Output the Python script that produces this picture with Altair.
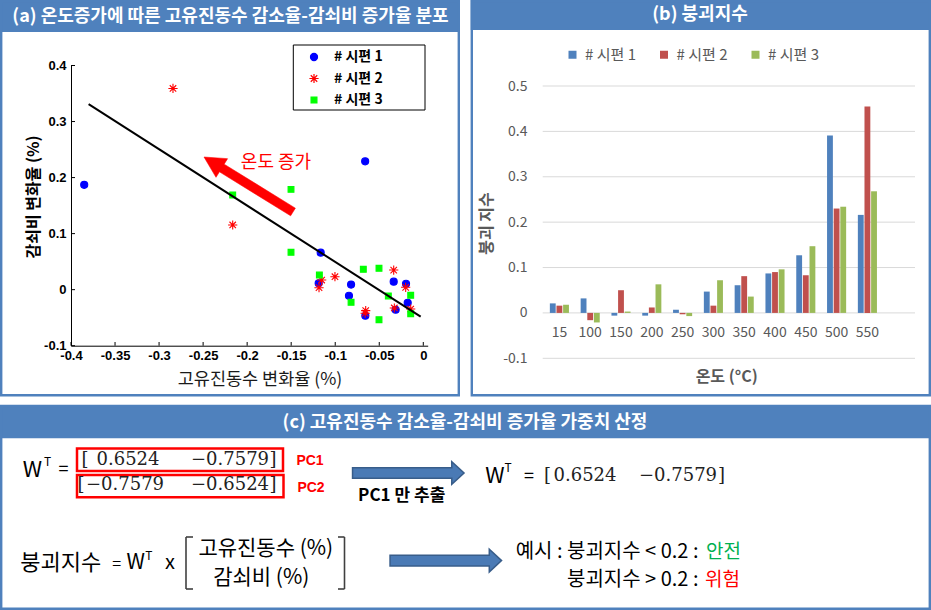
import altair as alt
import pandas as pd

# ---------------- data ----------------
series = ["# 시편 1", "# 시편 2", "# 시편 3"]

# (a) natural-frequency change rate (x) vs damping-ratio change rate (y)
s1_x = [-0.385, -0.066, -0.1165, -0.1188, -0.082, -0.0844, -0.0658, -0.0336, -0.0196, -0.0177, -0.0314]
s1_y = [0.187, 0.229, 0.066, 0.0114, 0.009, -0.011, -0.0465, 0.0142, 0.0106, -0.0233, -0.0358]
s2_x = [-0.2842, -0.2164, -0.1154, -0.1184, -0.1003, -0.0654, -0.066, -0.0336, -0.0329, -0.02, -0.0143]
s2_y = [0.359, 0.1154, 0.0172, 0.0035, 0.0231, -0.0375, -0.042, 0.035, -0.0327, 0.0042, -0.0345]
s3_x = [-0.2164, -0.1502, -0.1502, -0.118, -0.082, -0.0681, -0.0503, -0.0503, -0.0397, -0.0143, -0.0143]
s3_y = [0.169, 0.179, 0.0667, 0.0262, -0.0226, 0.0363, 0.0381, -0.0536, -0.0113, -0.01, -0.0429]
fit_x = [-0.38, -0.003]
fit_y = [0.331, -0.048]
a_xticks = [-0.4, -0.35, -0.3, -0.25, -0.2, -0.15, -0.1, -0.05, 0]
a_yticks = [-0.1, 0, 0.1, 0.2, 0.3, 0.4]

# (b) collapse index by temperature
temps = ["15", "100", "150", "200", "250", "300", "350", "400", "450", "500", "550"]
b1 = [0.021, 0.032, -0.006, -0.006, 0.007, 0.047, 0.061, 0.087, 0.127, 0.391, 0.216]
b2 = [0.016, -0.016, 0.050, 0.012, -0.003, 0.016, 0.081, 0.090, 0.083, 0.230, 0.455]
b3 = [0.018, -0.021, 0.003, 0.063, -0.007, 0.072, 0.036, 0.096, 0.147, 0.234, 0.268]
b_yticks = [-0.1, 0, 0.1, 0.2, 0.3, 0.4, 0.5]

# (c) PCA weights
w_pc1 = ["0.6524", "−0.7579"]
w_pc2 = ["−0.7579", "−0.6524"]

# ---------------- style ----------------
KR = "Noto Sans CJK KR"
AR = "Liberation Sans"
SERIF = "DejaVu Serif"
BLUE = "#4F81BD"
GRAY = "#595959"
MINUS2 = "replace(format(datum.value, '.2~f'), '−', '-')"
MINUS1 = "replace(format(datum.value, '.1~f'), '−', '-')"

PXS = alt.Scale(domain=[0, 931], range=[0, 931])
PYS = alt.Scale(domain=[0, 610], range=[0, 610])
AXS = alt.Scale(domain=[-0.4, 0.005], range=[71, 427.7])
AYS = alt.Scale(domain=[-0.1, 0.4], range=[345.7, 65.5])
BXS = alt.Scale(domain=temps, range=[544, 882.8], paddingInner=0.38, paddingOuter=0.19)
BYS = alt.Scale(domain=[-0.1, 0.5], range=[358.3, 86])

ASTER = "M-1,0L1,0M0,-1L0,1M-0.7,-0.7L0.7,0.7M-0.7,0.7L0.7,-0.7"
BLOCK = "M-1,-0.095L0.78,-0.095L0.78,-0.203L1,0L0.78,0.203L0.78,0.095L-1,0.095Z"
RED_ARROW = "M-1,-0.086L0.6,-0.086L0.6,-0.21L1,0L0.6,0.21L0.6,0.086L-1,0.086Z"


def px_rects(rows, **mark):
    df = pd.DataFrame(rows, columns=["x", "y", "x2", "y2"])
    return alt.Chart(df).mark_rect(**mark).encode(
        x=alt.X("x:Q", scale=PXS, axis=None), x2="x2:Q",
        y=alt.Y("y:Q", scale=PYS, axis=None), y2="y2:Q")


def px_rules(rows, **mark):
    df = pd.DataFrame(rows, columns=["x", "y", "x2", "y2"])
    return alt.Chart(df).mark_rule(**mark).encode(
        x=alt.X("x:Q", scale=PXS, axis=None), x2="x2:Q",
        y=alt.Y("y:Q", scale=PYS, axis=None), y2="y2:Q")


def texts(rows, font, weight, align):
    df = pd.DataFrame(rows, columns=["t", "x", "y", "s", "c", "a"])
    return alt.Chart(df).mark_text(font=font, fontWeight=weight, align=align, baseline="middle").encode(
        x=alt.X("x:Q", scale=PXS, axis=None),
        y=alt.Y("y:Q", scale=PYS, axis=None),
        text="t:N",
        size=alt.Size("s:Q", scale=None),
        color=alt.Color("c:N", scale=None),
        angle=alt.Angle("a:Q", scale=None))


def px_symbol(rows, shape, size, fill, stroke, width, angle):
    df = pd.DataFrame(rows, columns=["x", "y"])
    return alt.Chart(df).mark_point(shape=shape, size=size, filled=True, fill=fill, stroke=stroke,
                                    strokeWidth=width, angle=angle, opacity=1).encode(
        x=alt.X("x:Q", scale=PXS, axis=None), y=alt.Y("y:Q", scale=PYS, axis=None))


layers = []

# panel frames
layers.append(px_rects([(0, 0, 460, 32), (470.7, 0, 931, 30), (0, 405, 931, 438.3)], color=BLUE))
layers.append(px_rects([(1.2, 1, 458.8, 395.3), (471.8, 1, 929.8, 395.3), (1.2, 406, 929.8, 608.8)],
                       fillOpacity=0, stroke=BLUE, strokeWidth=2.4))
# scatter legend frame
layers.append(px_rects([(293.3, 45, 425, 110)], fillOpacity=0, stroke="black", strokeWidth=1))
# PC boxes
layers.append(px_rects([(77, 448.5, 283, 471), (77, 475, 283.5, 497.3)],
                       fillOpacity=0, stroke="#FF0000", strokeWidth=2.5))
# big bracket
layers.append(px_rules([(186, 537, 186, 589), (186, 537, 193, 537), (186, 589, 193, 589),
                        (344.5, 537, 344.5, 589), (338, 537, 344.5, 537), (338, 589, 344.5, 589)],
                       color="#404040", strokeWidth=1.6))

# ---------------- (b) bar chart ----------------
layers.append(alt.Chart(pd.DataFrame({"v": b_yticks})).mark_rule(color="#D9D9D9", strokeWidth=1).encode(
    y=alt.Y("v:Q", scale=BYS, axis=None), x=alt.value(542.7), x2=alt.value(915)))

df_b = pd.DataFrame({
    "temp": temps * 3,
    "value": b1 + b2 + b3,
    "series": [series[0]] * len(b1) + [series[1]] * len(b2) + [series[2]] * len(b3),
})
LEG_B = alt.Legend(title=None, orient="none", legendX=565, legendY=47, direction="horizontal", padding=0,
                   symbolType="square", symbolSize=64, symbolStrokeWidth=0, labelFont=KR, labelFontSize=15,
                   labelColor=GRAY, labelOffset=5, columnPadding=20.5)
layers.append(alt.Chart(df_b).mark_bar().encode(
    x=alt.X("temp:N", scale=BXS, sort=temps,
            axis=alt.Axis(orient="bottom", offset=312.3 - 610, domain=False, ticks=False, tickSize=0,
                          grid=False, labelAngle=0, labelPadding=13, labelFont=KR, labelFontSize=14,
                          labelColor=GRAY, title=None, zindex=1)),
    xOffset=alt.XOffset("series:N", scale=alt.Scale(domain=series, paddingInner=0.12, paddingOuter=0)),
    y=alt.Y("value:Q", scale=BYS,
            axis=alt.Axis(orient="left", offset=-532, values=b_yticks, domain=False, ticks=False, tickSize=0,
                          grid=False, labelPadding=5, labelFont=KR, labelFontSize=14, labelColor=GRAY,
                          labelExpr=MINUS1, title=None, zindex=1)),
    color=alt.Color("series:N", scale=alt.Scale(domain=series, range=["#4F81BD", "#C0504D", "#9BBB59"]),
                    legend=LEG_B),
))

# ---------------- (a) scatter ----------------
layers.append(alt.Chart(pd.DataFrame({"v": a_xticks})).mark_rule(color="black").encode(
    x=alt.X("v:Q", scale=AXS, axis=None), y=alt.value(345.7), y2=alt.value(342)))
layers.append(alt.Chart(pd.DataFrame({"v": a_yticks})).mark_rule(color="black").encode(
    y=alt.Y("v:Q", scale=AYS, axis=None), x=alt.value(71), x2=alt.value(75)))

df_a = pd.DataFrame({
    "x": s1_x + s2_x + s3_x,
    "y": s1_y + s2_y + s3_y,
    "series": [series[0]] * len(s1_x) + [series[1]] * len(s2_x) + [series[2]] * len(s3_x),
})
A_COLORS = ["#0000FF", "#FF0000", "#00FF00"]
LEG_A = alt.Legend(title=None, orient="none", legendX=307, legendY=50, padding=0, labelFont=KR,
                   labelFontWeight="bold", labelFontSize=14, labelColor="black", labelOffset=13,
                   rowPadding=6.5, symbolSize=55, symbolStrokeWidth=1.2)
layers.append(alt.Chart(df_a).mark_point(filled=True, opacity=1, strokeWidth=1.1).encode(
    x=alt.X("x:Q", scale=AXS,
            axis=alt.Axis(orient="bottom", offset=345.7 - 610, values=a_xticks, tickSize=0, ticks=False,
                          domainColor="black", labelFont=AR, labelFontWeight="bold", labelFontSize=13,
                          labelColor="black", labelPadding=4, labelFlush=False, labelOverlap=False,
                          grid=False, title=None, labelExpr=MINUS2, zindex=1)),
    y=alt.Y("y:Q", scale=AYS,
            axis=alt.Axis(orient="left", offset=-71, values=a_yticks, tickSize=0, ticks=False,
                          domainColor="black", labelFont=AR, labelFontWeight="bold", labelFontSize=13,
                          labelColor="black", labelPadding=5, labelFlush=False, labelOverlap=False,
                          grid=False, title=None, labelExpr=MINUS2, zindex=1)),
    color=alt.Color("series:N", scale=alt.Scale(domain=series, range=A_COLORS), legend=LEG_A),
    stroke=alt.Stroke("series:N", scale=alt.Scale(domain=series, range=A_COLORS), legend=LEG_A),
    shape=alt.Shape("series:N", scale=alt.Scale(domain=series, range=["circle", ASTER, "square"]),
                    legend=LEG_A),
    size=alt.Size("series:N", scale=alt.Scale(type="ordinal", domain=series, range=[50, 85, 34]),
                  legend=None),
))
layers.append(alt.Chart(pd.DataFrame({"x": fit_x, "y": fit_y})).mark_line(color="black", strokeWidth=2).encode(
    x=alt.X("x:Q", scale=AXS, axis=None), y=alt.Y("y:Q", scale=AYS, axis=None)))

# annotation arrows
layers.append(px_symbol([(248.5, 184.5)], RED_ARROW, 104.6 ** 2, "#FF0000", "#FF0000", 0.5, 211.7))
layers.append(px_symbol([(408.3, 473), (445.8, 560.6)], BLOCK, 111.5 ** 2, "#4a7ab5", "#385D8A", 1.5, 0))

# ---------------- texts ----------------
layers.append(texts([
    ("(a) 온도증가에 따른 고유진동수 감소율-감쇠비 증가율 분포", 230.5, 16.5, 18, "white", 0),
    ("(b) 붕괴지수", 700, 15, 18, "white", 0),
    ("(c) 고유진동수 감소율-감쇠비 증가율 가중치 산정", 465, 422.5, 18, "white", 0),
    ("감쇠비 변화율 (%)", 34, 197, 16, "black", 270),
    ("붕괴 지수", 487, 223.5, 16, GRAY, 270),
    ("온도 (°C)", 726.7, 376.7, 16, GRAY, 0),
    ("PC1 만 추출", 401.7, 496, 17, "black", 0),
], KR, "bold", "center"))

layers.append(texts([
    ("고유진동수 변화율 (%)", 260, 380, 17.5, "#1a1a1a", 0),
    ("온도 증가", 276, 163, 18, "#FF0000", 0),
    ("W", 32.5, 470, 22, "black", 0),
    ("T", 47.5, 462, 12, "black", 0),
    ("=", 63.5, 470, 18, "black", 0),
    ("W", 495, 476, 22, "black", 0),
    ("T", 508, 468, 12, "black", 0),
    ("=", 529, 477, 18, "black", 0),
    ("붕괴지수", 60.8, 563.3, 22, "black", 0),
    ("=", 116.7, 564, 16, "black", 0),
    ("W", 135.8, 563.3, 21, "black", 0),
    ("T", 148.8, 555.5, 12, "black", 0),
    ("x", 170, 563, 20, "black", 0),
    ("고유진동수 (%)", 265.8, 549, 21, "black", 0),
    ("감쇠비 (%)", 261.3, 577.5, 21, "black", 0),
], KR, "normal", "center"))

layers.append(texts([
    ("예시 : 붕괴지수 < 0.2 :", 698.5, 551.7, 20, "black", 0),
    ("붕괴지수 > 0.2 :", 698.5, 580, 20, "black", 0),
], KR, "normal", "right"))
layers.append(texts([
    ("안전", 706, 551.7, 19, "#00B050", 0),
    ("위험", 705, 580, 19, "#FF0000", 0),
], KR, "normal", "left"))

layers.append(texts([
    ("[", 85, 460, 18, "#222222", 0),
    (w_pc1[0], 128, 460, 18, "#222222", 0),
    (w_pc1[1], 230, 460, 18, "#222222", 0),
    ("]", 273, 460, 18, "#222222", 0),
    ("[", 81, 485, 18, "#222222", 0),
    (w_pc2[0], 125, 485, 18, "#222222", 0),
    (w_pc2[1], 230, 485, 18, "#222222", 0),
    ("]", 273, 485, 18, "#222222", 0),
    ("[", 547.5, 476.3, 18, "#222222", 0),
    (w_pc1[0], 585, 476.3, 18, "#222222", 0),
    (w_pc1[1], 678, 476.3, 18, "#222222", 0),
    ("]", 721.5, 476.3, 18, "#222222", 0),
], SERIF, "normal", "center"))

layers.append(texts([
    ("PC1", 310, 461, 14, "#FF0000", 0),
    ("PC2", 311, 487.5, 14, "#FF0000", 0),
], AR, "bold", "center"))

chart = alt.layer(*layers).resolve_scale(
    x="independent", y="independent", color="independent", shape="independent",
    stroke="independent", size="independent", angle="independent"
).properties(
    width=931, height=610, padding=0, background="white",
    autosize=alt.AutoSizeParams(type="none")
).configure_view(strokeWidth=0)

chart.save("out.html", embed_options={"renderer": "svg", "actions": False})
